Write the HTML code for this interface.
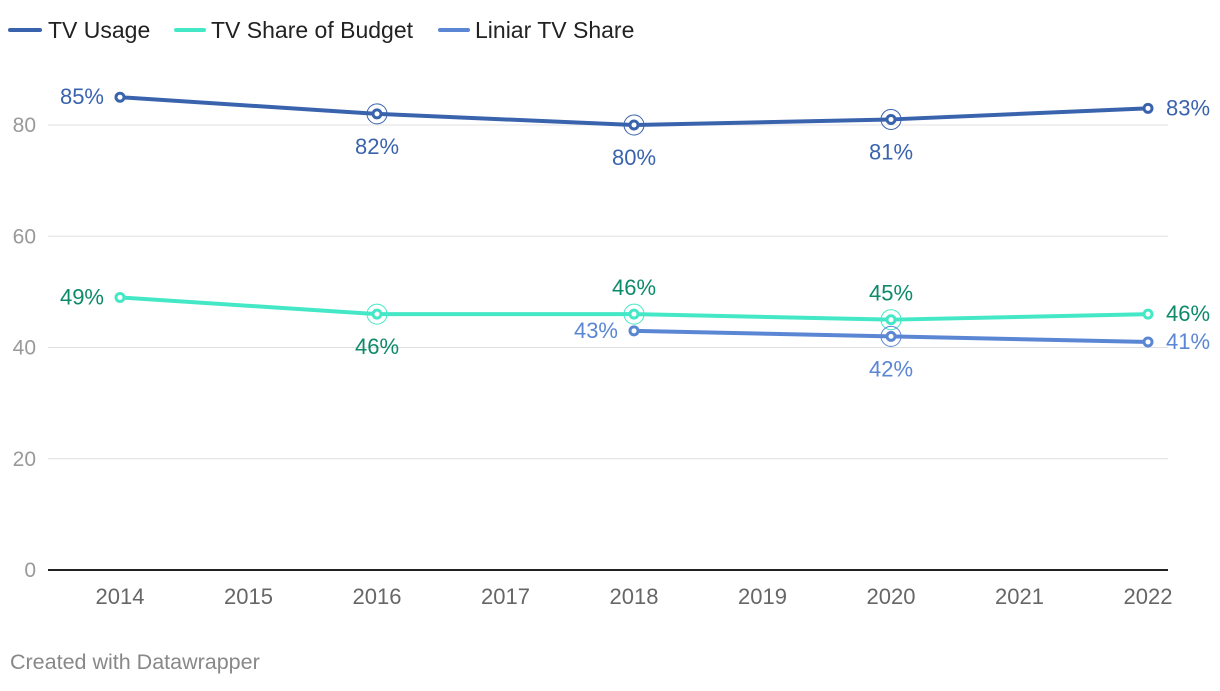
<!DOCTYPE html>
<html><head><meta charset="utf-8"><style>
body{margin:0;background:#fff;width:1220px;height:686px;overflow:hidden;font-family:"Liberation Sans",sans-serif}
svg text{font-family:"Liberation Sans",sans-serif}
</style></head><body>
<svg id="c" width="1220" height="686">
<g id="legend">
<g><line x1="10" y1="30" x2="40" y2="30" stroke="#3a63ae" stroke-width="4" stroke-linecap="round"/><text x="48" y="38" font-size="23" fill="#222">TV Usage</text></g>
<g><line x1="176" y1="30" x2="204" y2="30" stroke="#44e8c6" stroke-width="4" stroke-linecap="round"/><text x="211" y="38" font-size="23" fill="#222">TV Share of Budget</text></g>
<g><line x1="440" y1="30" x2="468" y2="30" stroke="#5b86d4" stroke-width="4" stroke-linecap="round"/><text x="475" y="38" font-size="23" fill="#222">Liniar TV Share</text></g>
</g>
<g id="grid"></g>
<g id="xaxis"></g>
<g id="series"></g>
<text x="10" y="669" font-size="21.5" fill="#888">Created with Datawrapper</text>
</svg>
<script>
const years=[2014,2015,2016,2017,2018,2019,2020,2021,2022];
const yTicks=[0,20,40,60,80];
const usageYears=[2014,2016,2018,2020,2022];
const usageVals=[85,82,80,81,83];
const budgetYears=[2014,2016,2018,2020,2022];
const budgetVals=[49,46,46,45,46];
const linearYears=[2018,2020,2022];
const linearVals=[43,42,41];

const NS="http://www.w3.org/2000/svg";
const X=y=>120+(y-2014)*128.5;
const Y=v=>570-v*5.5625;
function mk(t,a,p){const e=document.createElementNS(NS,t);for(const k in a)e.setAttribute(k,a[k]);p.appendChild(e);return e;}
const grid=document.getElementById('grid'),xa=document.getElementById('xaxis'),ser=document.getElementById('series');
yTicks.forEach(t=>{
  if(t>0){const l=mk('line',{x1:48,x2:1168,y1:Y(t),y2:Y(t),stroke:'#e0e0e0','stroke-width':1},grid);
  
  }
  const tx=mk('text',{x:36,y:Y(t)+7,'font-size':21,fill:'#999','text-anchor':'end'},grid);tx.textContent=t;
  
  
});
const ax=mk('line',{x1:48,x2:1168,y1:Y(0),y2:Y(0),stroke:'#222','stroke-width':2},xa);


years.forEach(y=>{const t=mk('text',{x:X(y),y:604,'font-size':22,fill:'#666','text-anchor':'middle'},xa);t.textContent=y;

});

function series(name,ys,vs,col,lab,pos){
  const g=mk('g',{},ser);
  
  
  const p=mk('polyline',{points:ys.map((y,i)=>X(y)+','+Y(vs[i])).join(' '),fill:'none',stroke:col,'stroke-width':4,'stroke-linejoin':'round'},g);
  
  
  ys.forEach((y,i)=>{
    const cx=X(y),cy=Y(vs[i]);
    const ps=pos[i];
    if(ps=='b'||ps=='a'){const h=mk('circle',{cx,cy,r:10,fill:'none',stroke:col,'stroke-width':1},g);
      
      }
    const c=mk('circle',{cx,cy,r:4,fill:'#fff',stroke:col,'stroke-width':3},g);
    
    
    let tx=cx,ty=cy+7,an='middle';
    if(ps=='l'){tx=cx-16;an='end';}else if(ps=='r'){tx=cx+18;an='start';}
    else if(ps=='b'){ty=cy+40;}else if(ps=='a'){ty=cy-19;}
    const t=mk('text',{x:tx,y:ty,'font-size':22,fill:lab,'text-anchor':an},g);t.textContent=vs[i]+'%';
    
    
  });
}
series('tv-usage',usageYears,usageVals,'#3a63ae','#3a63ae',['l','b','b','b','r']);
series('tv-share-of-budget',budgetYears,budgetVals,'#44e8c6','#0d8a6a',['l','b','a','a','r']);
series('liniar-tv-share',linearYears,linearVals,'#5b86d4','#5b86d4',['l','b','r']);
</script>
</body></html>
